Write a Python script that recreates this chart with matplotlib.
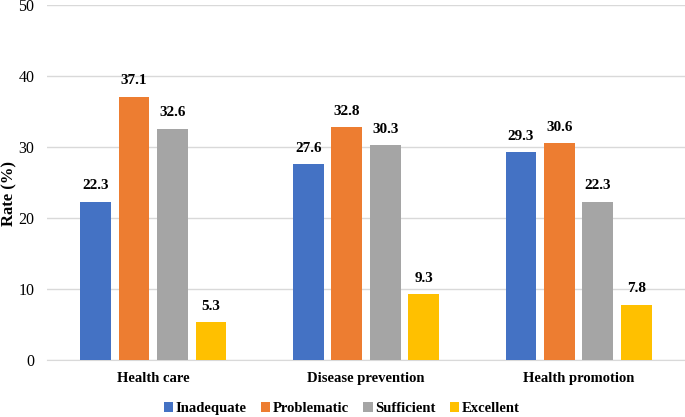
import matplotlib.pyplot as plt
import numpy as np

# data
categories = ['Health care', 'Disease prevention', 'Health promotion']
levels = ['Inadequate', 'Problematic', 'Sufficient', 'Excellent']
inadequate = [22.3, 27.6, 29.3]
problematic = [37.1, 32.8, 30.6]
sufficient = [32.6, 30.3, 22.3]
excellent = [5.3, 9.3, 7.8]
colors = ['#4472C4', '#ED7D31', '#A5A5A5', '#FFC000']

plt.rcParams['font.family'] = ['Liberation Serif', 'DejaVu Serif']

fig = plt.figure(figsize=(6.85, 4.17), dpi=100)
ax = fig.add_axes([0.0686, 0.1367, 0.9314, 0.8513])

x = np.arange(len(categories))
series = [inadequate, problematic, sufficient, excellent]
width = 0.145
pitch = 0.181
for i, vals in enumerate(series):
    pos = x + (i - 1.5) * pitch
    bars = ax.bar(pos, vals, width, color=colors[i], label=levels[i], zorder=3)
    for b, v in zip(bars, vals):
        ax.text(b.get_x() + b.get_width() / 2, v + 1.3, f'{v:.1f}',
                ha='center', va='bottom', fontsize=11, fontweight='bold')

ax.set_xlim(-0.5, 2.5)
ax.set_ylim(0, 50)
ax.set_yticks(range(0, 51, 10))
ax.yaxis.grid(True, color='#D9D9D9', linewidth=1, zorder=0)
ax.set_xticks(x)
ax.set_xticklabels(categories, fontsize=10.5, fontweight='bold')
ax.tick_params(axis='y', labelsize=11.5, length=0, pad=9)
ax.tick_params(axis='x', length=0, pad=9)
for s in ['top', 'right', 'left']:
    ax.spines[s].set_visible(False)
ax.spines['bottom'].set_color('#D9D9D9')
fig.text(0.013, 0.535, 'Rate (%)', rotation=90, ha='center', va='center',
         fontsize=12, fontweight='bold')

leg = fig.legend(loc='center', bbox_to_anchor=(0.499, 0.02), ncol=4,
                 frameon=False, handlelength=0.65, handleheight=0.65,
                 handletextpad=0.2, columnspacing=0.95,
                 prop={'size': 10.5, 'weight': 'bold'})

fig.savefig('out.png', dpi=100)
